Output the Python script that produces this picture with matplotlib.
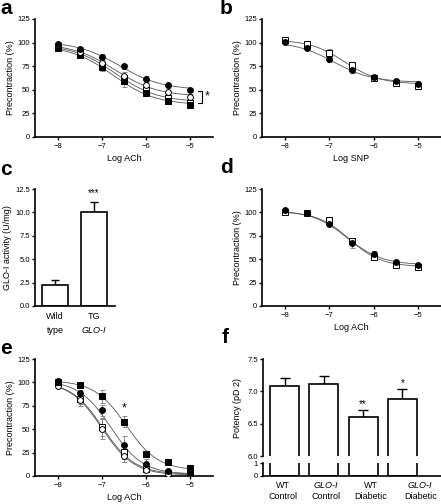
import numpy as np
import matplotlib
matplotlib.use("Agg")
import matplotlib.pyplot as plt
from matplotlib.transforms import blended_transform_factory

plt.rcParams['font.family'] = ['Liberation Sans', 'DejaVu Sans']
plt.rcParams['axes.linewidth'] = 1.2
plt.rcParams['xtick.major.width'] = 1.0
plt.rcParams['ytick.major.width'] = 1.0
plt.rcParams['xtick.major.size'] = 2.5
plt.rcParams['ytick.major.size'] = 2.5
plt.rcParams['xtick.labelsize'] = 5.5
plt.rcParams['ytick.labelsize'] = 5.5
plt.rcParams['xtick.major.pad'] = 1.5
plt.rcParams['ytick.major.pad'] = 1.0

# ---------------- data ----------------
log_conc = [-8, -7.5, -7, -6.5, -6, -5.5, -5]

# panel a (Log ACh)
a_filled_circle = [99, 93.5, 85, 74.7, 61.3, 55.2, 49.6]
a_filled_circle_err = [1.5, 2, 3, 3, 3, 2.5, 2]
a_open_circle = [97, 90, 78.6, 64.4, 55, 47.5, 42.5]
a_open_circle_err = [2, 2, 3, 4, 4, 4, 3]
a_filled_square = [94.5, 86.8, 73.7, 59, 46.7, 38.2, 33.6]
a_filled_square_err = [2, 2, 4, 6, 3, 3, 3]
a_open_square = [96, 89, 76, 62, 50, 41, 36]
a_open_square_err = [2, 2, 3, 4, 3, 3, 3]
# fitted curve parameters: top, bottom, logEC50, hill
a_fits = {'filled_circle': (101, 50, -6.6, 0.9),
          'open_circle': (99, 43, -6.7, 0.9),
          'filled_square': (97, 34, -6.75, 0.9),
          'open_square': (98, 37, -6.7, 0.9)}

# panel b (Log SNP)
b_filled_circle = [100.2, 94.5, 82.5, 71.2, 63.7, 59.1, 56]
b_filled_circle_err = [2, 2, 3, 3, 2.5, 2.5, 3]
b_open_square = [102.3, 98.8, 88.9, 75.8, 62.3, 57.4, 54.2]
b_open_square_err = [2, 2, 4, 3, 2.5, 3, 3]
b_fits = {'filled_circle': (101, 58, -6.9, 1.0),
          'open_square': (103, 56, -6.65, 1.1)}

# panel c (GLO-I activity)
c_groups = ['Wild\ntype', 'TG\nGLO-I']
c_values = [2.29, 10.07]
c_errors = [0.46, 1.07]

# panel d (Log ACh)
d_filled_circle = [102.2, 99.7, 87.6, 67, 55.6, 47, 43.8]
d_filled_circle_err = [1.5, 1.5, 2.5, 5, 3, 1.5, 1.5]
d_open_square = [100.4, 99, 91.9, 69.8, 52.7, 44.2, 42]
d_open_square_err = [1.5, 1.5, 2, 2.5, 3, 1.5, 1.5]
d_fits = {'filled_circle': (102, 44, -6.6, 1.1),
          'open_square': (101, 42, -6.55, 1.2)}

# panel e (Log ACh)
e_filled_square = [100.7, 97, 85, 57.9, 23.2, 14.6, 8.2]
e_filled_square_err = [1.5, 2, 7, 6, 3, 2, 2]
e_filled_circle = [101.8, 89, 70, 33.2, 13.2, 5.7, 3.6]
e_filled_circle_err = [1.5, 3, 6, 10, 5, 2, 1.5]
e_open_circle = [96, 80.7, 50.4, 21, 6.8, 2.5, 1.8]
e_open_circle_err = [2, 6, 11, 6, 3, 1.5, 1]
e_open_square = [99, 81.8, 52.5, 25.7, 7.9, 3.2, 2.5]
e_open_square_err = [2, 5, 10, 8, 3, 1.5, 1]
e_fits = {'filled_square': (102, 6, -6.45, 1.2),
          'filled_circle': (102, 2, -6.8, 1.2),
          'open_circle': (101, 1, -7.0, 1.2),
          'open_square': (101, 2, -6.98, 1.2)}

# panel f (potency)
f_top_line = ['WT', 'GLO-I', 'WT', 'GLO-I']
f_bottom_line = ['Control', 'Control', 'Diabetic', 'Diabetic']
f_italic = [False, True, False, True]
f_values = [7.08, 7.12, 6.61, 6.88]
f_errors = [0.12, 0.12, 0.10, 0.16]
f_stars = ['', '', '**', '*']

# ---------------- helpers ----------------
W, H = 441, 504
fig = plt.figure(figsize=(W / 100, H / 100), dpi=100)


def ax_px(left, top, right, bottom):
    return fig.add_axes([left / W, 1 - bottom / H, (right - left) / W, (bottom - top) / H])


def sigmoid(x, top, bottom, ec50, hill):
    return bottom + (top - bottom) / (1 + 10 ** ((x - ec50) * hill))


styles = {'filled_circle': dict(marker='o', mfc='black', mec='black', ms=4.2),
          'open_circle': dict(marker='o', mfc='white', mec='black', ms=4.2),
          'filled_square': dict(marker='s', mfc='black', mec='black', ms=3.8),
          'open_square': dict(marker='s', mfc='white', mec='black', ms=3.8)}

xs = np.linspace(-8, -5, 200)


def curve_panel(ax, series, fits, xlabel):
    for key, (vals, errs) in series.items():
        ax.plot(xs, sigmoid(xs, *fits[key]), color='#555555', lw=0.6, zorder=1)
    for key, (vals, errs) in series.items():
        ax.errorbar(log_conc, vals, yerr=errs, fmt='none', ecolor='#777777',
                    elinewidth=0.6, capsize=1.8, capthick=0.6, zorder=2)
    for key, (vals, errs) in series.items():
        ax.plot(log_conc, vals, ls='none', mew=0.7, zorder=3, **styles[key])
    ax.set_xlim(-8.52, -4.48)
    ax.set_ylim(0, 125)
    ax.set_xticks([-8, -7, -6, -5])
    ax.set_xticklabels(['\u22128', '\u22127', '\u22126', '\u22125'])
    ax.set_yticks([0, 25, 50, 75, 100, 125])
    ax.spines['top'].set_visible(False)
    ax.spines['right'].set_visible(False)
    ax.set_ylabel('Precontraction (%)', fontsize=6.5, labelpad=2)
    ax.set_xlabel(xlabel, fontsize=6.5, labelpad=3)


def panel_letter(x, y, s):
    fig.text(x / W, 1 - y / H, s, fontsize=15, fontweight='bold', va='top', ha='left')


# ---------------- panel a ----------------
ax_a = ax_px(35, 19, 213, 137)
curve_panel(ax_a, {'open_square': (a_open_square, a_open_square_err),
                   'filled_square': (a_filled_square, a_filled_square_err),
                   'open_circle': (a_open_circle, a_open_circle_err),
                   'filled_circle': (a_filled_circle, a_filled_circle_err)},
            a_fits, 'Log ACh')
ax_a.plot([-4.83, -4.73, -4.73, -4.83], [48.5, 48.5, 36.5, 36.5], color='black', lw=0.8,
          clip_on=False)
ax_a.text(-4.66, 42.5, '*', fontsize=9, ha='left', va='center')
panel_letter(0, -1, 'a')

# ---------------- panel b ----------------
ax_b = ax_px(262, 19, 441, 137)
curve_panel(ax_b, {'open_square': (b_open_square, b_open_square_err),
                   'filled_circle': (b_filled_circle, b_filled_circle_err)},
            b_fits, 'Log SNP')
panel_letter(220, -1, 'b')

# ---------------- panel c ----------------
ax_c = ax_px(35, 189, 115, 306)
ax_c.bar([0, 1], c_values, width=0.66, color='white', edgecolor='black', lw=1.2, zorder=2)
ax_c.errorbar([0, 1], c_values, yerr=[[0, 0], c_errors], fmt='none', ecolor='black',
              elinewidth=1.0, capsize=3, capthick=1.0, zorder=1)
ax_c.set_xlim(-0.52, 1.54)
ax_c.set_ylim(0, 12.5)
ax_c.set_yticks([0, 2.5, 5.0, 7.5, 10.0, 12.5])
ax_c.set_yticklabels(['0.0', '2.5', '5.0', '7.5', '10.0', '12.5'])
ax_c.set_xticks([])
ax_c.spines['top'].set_visible(False)
ax_c.spines['right'].set_visible(False)
ax_c.set_ylabel('GLO-I activity (U/mg)', fontsize=6.5, labelpad=2)
ax_c.text(1, 11.55, '***', fontsize=7, ha='center', va='bottom')
tc = blended_transform_factory(ax_c.transData, ax_c.transAxes)
for i, lab in enumerate(c_groups):
    l1, l2 = lab.split('\n')
    ax_c.text(i, -0.05, l1, transform=tc, fontsize=6.5, ha='center', va='top')
    ax_c.text(i, -0.17, l2, transform=tc, fontsize=6.5, ha='center', va='top',
              style='italic' if 'GLO' in l2 else 'normal')
panel_letter(0, 160, 'c')

# ---------------- panel d ----------------
ax_d = ax_px(262, 189, 441, 306)
curve_panel(ax_d, {'open_square': (d_open_square, d_open_square_err),
                   'filled_circle': (d_filled_circle, d_filled_circle_err)},
            d_fits, 'Log ACh')
panel_letter(220, 158, 'd')

# ---------------- panel e ----------------
ax_e = ax_px(35, 359, 213, 476)
curve_panel(ax_e, {'open_square': (e_open_square, e_open_square_err),
                   'open_circle': (e_open_circle, e_open_circle_err),
                   'filled_circle': (e_filled_circle, e_filled_circle_err),
                   'filled_square': (e_filled_square, e_filled_square_err)},
            e_fits, 'Log ACh')
ax_e.text(-6.5, 66, '*', fontsize=9, ha='center', va='bottom')
panel_letter(0, 339, 'e')

# ---------------- panel f ----------------
ax_f1 = ax_px(263, 359, 441, 456)
ax_f2 = ax_px(263, 463, 441, 476)
xpos = np.arange(len(f_values))
for ax in (ax_f1, ax_f2):
    ax.bar(xpos, f_values, width=0.74, color='white', edgecolor='black', lw=1.2, zorder=2)
    ax.set_xlim(-0.55, 3.98)
    ax.spines['top'].set_visible(False)
    ax.spines['right'].set_visible(False)
    ax.set_xticks([])
ax_f1.errorbar(xpos, f_values, yerr=[np.zeros(4), f_errors], fmt='none', ecolor='black',
               elinewidth=1.0, capsize=3.5, capthick=1.0, zorder=1)
ax_f1.set_ylim(6.0, 7.5)
ax_f1.set_yticks([6.0, 6.5, 7.0, 7.5])
ax_f1.set_yticklabels(['6.0', '6.5', '7.0', '7.5'])
ax_f1.spines['bottom'].set_visible(False)
ax_f2.set_ylim(0, 1)
ax_f2.set_yticks([0, 1])
ax_f1.set_ylabel('Potency (pD 2)', fontsize=6.5, labelpad=4)
for i, s in enumerate(f_stars):
    if s:
        ax_f1.text(i, f_values[i] + f_errors[i] + 0.01, s, fontsize=7, ha='center', va='bottom')
tf = blended_transform_factory(ax_f2.transData, ax_f2.transAxes)
label_shift = [-0.05, 0.05, 0.2, 0.45]
for i in range(4):
    ax_f2.text(i + label_shift[i], -0.35, f_top_line[i], transform=tf, fontsize=6.5,
               ha='center', va='top', style='italic' if f_italic[i] else 'normal')
    ax_f2.text(i + label_shift[i], -1.25, f_bottom_line[i], transform=tf, fontsize=6.5,
               ha='center', va='top')
panel_letter(222, 328, 'f')

fig.savefig('out.png', dpi=100)
